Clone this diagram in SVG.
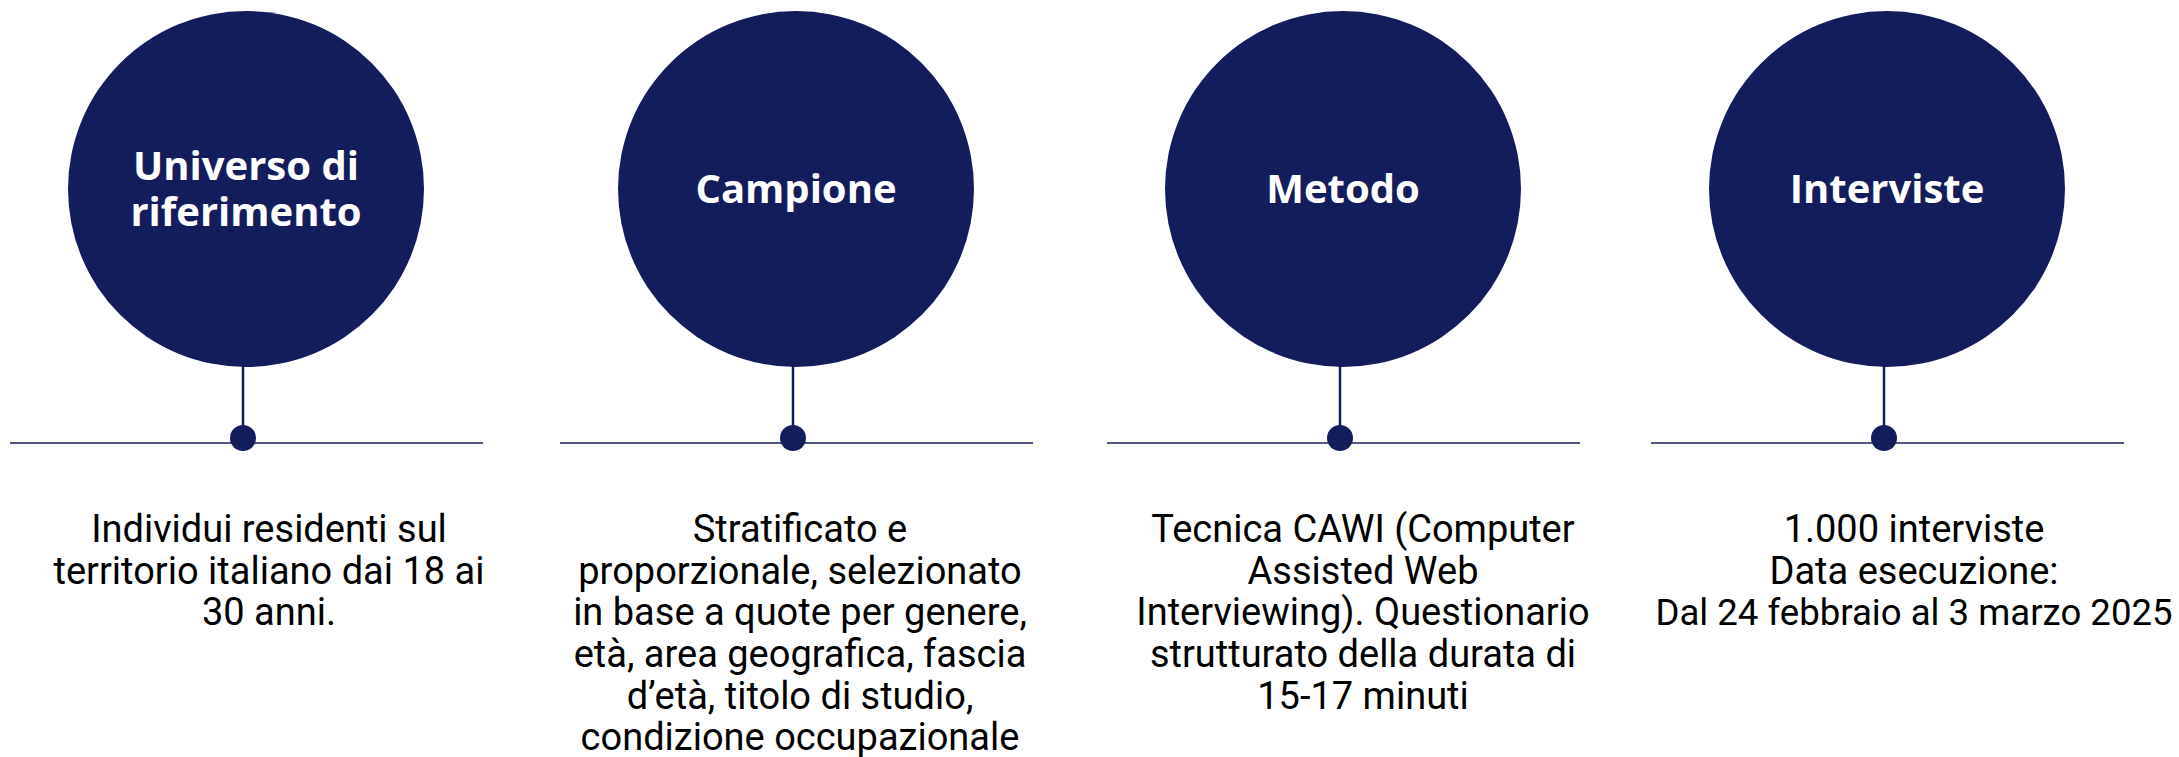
<svg xmlns="http://www.w3.org/2000/svg" width="2179" height="757" viewBox="0 0 2179 757">
<style>
.bg{fill:#ffffff}
.circ{fill:#141D5B}
.stem{stroke:#141D5B;stroke-width:2.5;fill:none}
.base{stroke:#141D5B;stroke-width:1.6;fill:none}
.dot{fill:#141D5B}
.title{font-family:"Open Sans","Noto Sans",sans-serif;font-weight:700;font-size:40px;fill:#ffffff;text-anchor:middle}
.body{font-family:Roboto,"Liberation Sans",sans-serif;font-size:38px;fill:#000000;text-anchor:middle}
</style>
<rect class="bg" x="0" y="0" width="2179" height="757"/>
<g id="connectors">
<line class="base" x1="10" y1="443" x2="483" y2="443"/>
<line class="base" x1="560" y1="443" x2="1033" y2="443"/>
<line class="base" x1="1107" y1="443" x2="1580" y2="443"/>
<line class="base" x1="1651" y1="443" x2="2124" y2="443"/>
<line class="stem" x1="243" y1="360" x2="243" y2="430"/>
<line class="stem" x1="793" y1="360" x2="793" y2="430"/>
<line class="stem" x1="1340" y1="360" x2="1340" y2="430"/>
<line class="stem" x1="1884" y1="360" x2="1884" y2="430"/>
<circle class="dot" cx="243" cy="438" r="13"/>
<circle class="dot" cx="793" cy="438" r="13"/>
<circle class="dot" cx="1340" cy="438" r="13"/>
<circle class="dot" cx="1884" cy="438" r="13"/>
</g>
<g id="node-universo">
<circle class="circ" cx="246" cy="189" r="178"/>
<text class="title" x="246" y="180">Universo di<tspan x="246" dy="46">riferimento</tspan></text>
</g>
<g id="node-campione">
<circle class="circ" cx="796" cy="189" r="178"/>
<text class="title" x="796" y="203">Campione</text>
</g>
<g id="node-metodo">
<circle class="circ" cx="1343" cy="189" r="178"/>
<text class="title" x="1343" y="203">Metodo</text>
</g>
<g id="node-interviste">
<circle class="circ" cx="1887" cy="189" r="178"/>
<text class="title" x="1887" y="203">Interviste</text>
</g>
<g id="desc-universo">
<text class="body" x="269" y="542">Individui residenti sul</text>
<text class="body" x="269" y="584">territorio italiano dai 18 ai</text>
<text class="body" x="269" y="625">30 anni.</text>
</g>
<g id="desc-campione">
<text class="body" x="800" y="542">Stratificato e</text>
<text class="body" x="800" y="584">proporzionale, selezionato</text>
<text class="body" x="800" y="625">in base a quote per genere,</text>
<text class="body" x="800" y="667">età, area geografica, fascia</text>
<text class="body" x="800" y="709">d’età, titolo di studio,</text>
<text class="body" x="800" y="750">condizione occupazionale</text>
</g>
<g id="desc-metodo">
<text class="body" x="1363" y="542">Tecnica CAWI (Computer</text>
<text class="body" x="1363" y="584">Assisted Web</text>
<text class="body" x="1363" y="625">Interviewing). Questionario</text>
<text class="body" x="1363" y="667">strutturato della durata di</text>
<text class="body" x="1363" y="709">15-17 minuti</text>
</g>
<g id="desc-interviste">
<text class="body" x="1914" y="542">1.000 interviste</text>
<text class="body" x="1914" y="584">Data esecuzione:</text>
<text class="body" x="1914" y="625" style="font-size:36.6px">Dal 24 febbraio al 3 marzo 2025</text>
</g>
</svg>
